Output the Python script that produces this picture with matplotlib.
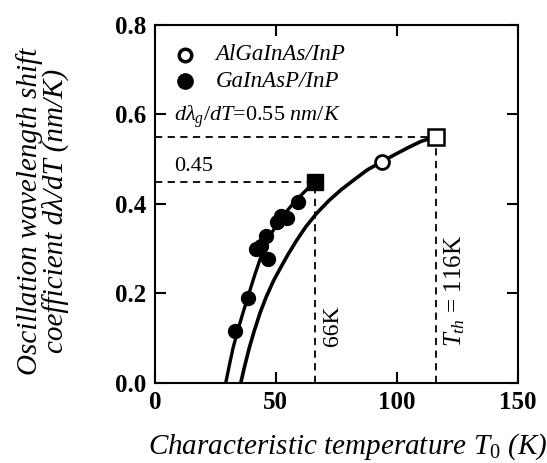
import matplotlib.pyplot as plt

plt.rcParams['font.family'] = ['Liberation Serif', 'DejaVu Serif']
plt.rcParams['mathtext.fontset'] = 'custom'
plt.rcParams['mathtext.it'] = 'Liberation Serif:italic'
plt.rcParams['mathtext.rm'] = 'Liberation Serif'

# Data
# GaInAsP/InP (filled circles)
gainasp_T = [33.0, 38.6, 42.0, 46.8, 44.0, 46.1, 50.3, 52.3, 54.5, 59.2]
gainasp_y = [0.115, 0.19, 0.299, 0.276, 0.305, 0.329, 0.359, 0.374, 0.368, 0.404]
# AlGaInAs/InP (open circle)
algainas_T = [93.7]
algainas_y = [0.494]
# end points (squares)
sq_filled = (66, 0.45)
sq_open = (116, 0.55)

# fitted curves
left_T = [29.3, 30.8, 32.4, 34.4, 36.6, 38.9, 41.2, 43.7, 45.2, 46.8, 48.8, 51.2,
          53.9, 57.0, 60.5, 64.2, 66.0]
left_y = [0.0, 0.04, 0.08, 0.12, 0.16, 0.20, 0.24, 0.28, 0.30, 0.32, 0.34, 0.36,
          0.38, 0.40, 0.42, 0.44, 0.45]
right_T = [35.5, 37.0, 39.0, 41.0, 43.5, 46.0, 49.0, 52.0, 55.0, 58.5, 62.5, 67.0,
           72.0, 77.0, 83.0, 88.0, 93.7, 99.0, 105.0, 110.0, 116.0]
right_y = [0.0, 0.035, 0.078, 0.115, 0.157, 0.192, 0.228, 0.258, 0.287, 0.318, 0.35,
           0.38, 0.408, 0.432, 0.457, 0.477, 0.494, 0.51, 0.527, 0.54, 0.55]

fig = plt.figure(figsize=(5.47, 4.63), dpi=100)
ax = fig.add_axes([0.283, 0.173, 0.664, 0.773])

# dashed guide lines
ax.plot([0, sq_filled[0]], [sq_filled[1], sq_filled[1]], 'k--', lw=1.3, dashes=(4, 3))
ax.plot([sq_filled[0], sq_filled[0]], [0, sq_filled[1]], 'k--', lw=1.3, dashes=(4, 3))
ax.plot([0, sq_open[0]], [sq_open[1], sq_open[1]], 'k--', lw=1.3, dashes=(4, 3))
ax.plot([sq_open[0], sq_open[0]], [0, sq_open[1]], 'k--', lw=1.3, dashes=(4, 3))

ax.plot(left_T, left_y, 'k-', lw=2.4)
ax.plot(right_T, right_y, 'k-', lw=2.6)

ax.plot(gainasp_T, gainasp_y, 'o', color='black', ms=10, zorder=3)
ax.plot(algainas_T, algainas_y, 'o', mfc='white', mec='black', mew=2, ms=10, zorder=3)
ax.plot(*sq_filled, 's', color='black', ms=11, zorder=3)
ax.plot(*sq_open, 's', mfc='white', mec='black', mew=1.8, ms=12, zorder=3)

# legend drawn by hand
ax.plot(12.4, 0.733, 'o', mfc='white', mec='black', mew=2.5, ms=9)
ax.plot(12.4, 0.674, 'o', color='black', ms=11)
ax.text(25, 0.733, 'AlGaInAs/InP', style='italic', fontsize=16.5, va='center')
ax.text(25, 0.674, 'GaInAsP/InP', style='italic', fontsize=16.5, va='center')

ax.text(8, 0.595, r'$d\lambda_g/dT$=0.55 $nm/K$', fontsize=16, va='center')
ax.text(8, 0.483, '0.45', fontsize=16, va='center')
ax.text(73.5, 0.128, '66K', fontsize=17, rotation=90, ha='center', va='center')
ax.text(124, 0.205, r'$T_{th}$ = 116K', fontsize=18, rotation=90, ha='center', va='center')

ax.set_xlim(0, 150)
ax.set_ylim(0, 0.8)
ax.set_xticks([0, 50, 100, 150])
ax.set_yticks([0.0, 0.2, 0.4, 0.6, 0.8])
ax.set_yticklabels(['0.0', '0.2', '0.4', '0.6', '0.8'])
ax.tick_params(direction='in', length=8, width=1.5, top=True, right=True, labelsize=18, pad=6)
for lab in ax.get_xticklabels() + ax.get_yticklabels():
    lab.set_fontweight('bold')
for s in ax.spines.values():
    s.set_linewidth(1.5)

ax.set_xlabel(r'Characteristic temperature $T_0$ (K)', style='italic', fontsize=21)
ax.xaxis.set_label_coords(0.53, -0.135)
ax.set_ylabel('Oscillation wavelength shift\ncoefficient d\u03bb/dT (nm/K)', style='italic',
              fontsize=21, linespacing=0.95)
ax.yaxis.set_label_coords(-0.235, 0.48)

plt.savefig('out.png', dpi=100)
